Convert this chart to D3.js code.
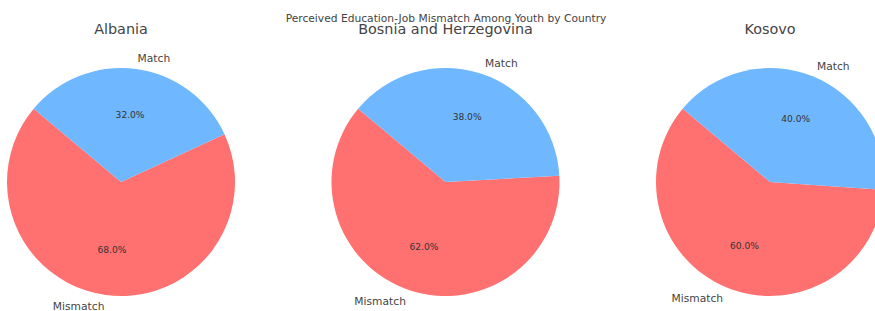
<!DOCTYPE html>
<html>
<head>
<meta charset="utf-8">
<script src="https://cdn.jsdelivr.net/npm/d3@7"></script>
<style>
  body { margin: 0; background: #fff; }
  svg { display: block; font-family: "DejaVu Sans", sans-serif; }
</style>
</head>
<body>
<script>
// data
var countries = ["Albania", "Bosnia and Herzegovina", "Kosovo"];
var categories = ["Mismatch", "Match"];
var mismatchPct = [68, 62, 60];
var matchPct = [32, 38, 40];
var colors = ["#ff7070", "#6fb7ff"];
var title = "Perceived Education-Job Mismatch Among Youth by Country";

var w = 875, h = 311;
var radius = 114, cy = 182;
var startAngle = 140; // degrees, counterclockwise from +x (matplotlib style)

var svg = d3.select("body").append("svg")
    .attr("width", w)
    .attr("height", h);

var xScale = d3.scalePoint()
    .domain(countries)
    .range([121, 770]);

// convert matplotlib angle (deg, ccw from +x) to d3 angle (rad, cw from 12 o'clock)
function toD3(deg) { return (90 - deg) * Math.PI / 180; }

countries.forEach(function(c, i) {
  var values = [mismatchPct[i], matchPct[i]];
  var total = d3.sum(values);
  var cx = xScale(c);
  var g = svg.append("g").attr("transform", `translate(${cx}, ${cy})`);

  var a = startAngle;
  var slices = values.map(function(v, k) {
    var span = v / total * 360;
    var s = { value: v, label: categories[k], color: colors[k], a0: a, a1: a + span };
    a += span;
    return s;
  });

  var arc = d3.arc().innerRadius(0).outerRadius(radius);

  g.selectAll("path")
    .data(slices)
    .enter()
    .append("path")
    .attr("d", d => arc({ startAngle: toD3(d.a1), endAngle: toD3(d.a0) }))
    .attr("fill", d => d.color);

  slices.forEach(function(d) {
    var mid = (d.a0 + d.a1) / 2 * Math.PI / 180;
    var lx = Math.cos(mid) * radius * 1.1, ly = -Math.sin(mid) * radius * 1.1;
    g.append("text")
      .attr("x", lx)
      .attr("y", ly + 3.9)
      .attr("text-anchor", lx > 0 ? "start" : "end")
      .style("font-size", "10.7px")
      .style("fill", "#444")
      .text(d.label);
    g.append("text")
      .attr("x", Math.cos(mid) * radius * 0.6)
      .attr("y", -Math.sin(mid) * radius * 0.6 + 3.3)
      .attr("text-anchor", "middle")
      .style("font-size", "9.1px")
      .style("fill", "#333")
      .text(d3.format(".1f")(d.value / total * 100) + "%");
  });

  svg.append("text")
    .attr("x", cx)
    .attr("y", 34)
    .attr("text-anchor", "middle")
    .style("font-size", "14.4px")
    .style("fill", "#444")
    .text(c);
});

// figure title, drawn last so it sits over the middle title like the original
svg.append("text")
    .attr("x", 446)
    .attr("y", 21.5)
    .attr("text-anchor", "middle")
    .style("font-size", "10.7px")
    .style("fill", "#444")
    .text(title);
</script>
</body>
</html>
